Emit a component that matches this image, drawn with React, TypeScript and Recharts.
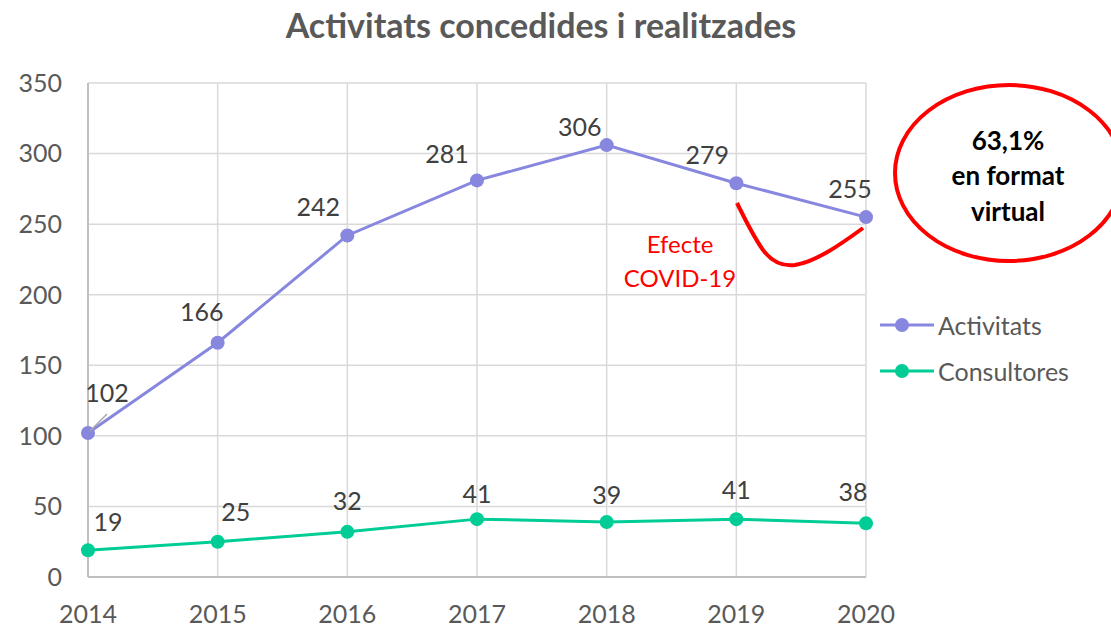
import React from 'react'
import { LineChart, Line, XAxis, YAxis, CartesianGrid, LabelList } from 'recharts'

const years = ['2014', '2015', '2016', '2017', '2018', '2019', '2020']
const activitats = [102, 166, 242, 281, 306, 279, 255]
const consultores = [19, 25, 32, 41, 39, 41, 38]
const yTicks = [0, 50, 100, 150, 200, 250, 300, 350]

// label offsets from the point (text centre), like Excel placed them
const actOffsets = [[19, -41], [-16, -32], [-29, -29], [-30, -27], [-27, -19], [-29, -29], [-16, -29]]
const conOffsets = [[20, -29], [18, -31], [0, -32], [0, -26], [0, -28], [0, -30], [-13, -32]]

const PURPLE = '#8787e0'
const TEAL = '#00cc96'
const FONT = 'Lato, "Open Sans", sans-serif'

const chartData = years.map((year, i) => ({
  year,
  activitats: activitats[i],
  consultores: consultores[i],
}))

function makeLabel(offsets: number[][], leader: boolean) {
  return (props: any) => {
    const { x, y, value, index } = props
    const [dx, dy] = offsets[index] || [0, -28]
    return (
      <g>
        {leader && index === 0 && (
          <line x1={x + 2} y1={y - 2} x2={x + 19} y2={y - 19} stroke="#a6a6a6" strokeWidth={1.5} />
        )}
        <text
          x={x + dx}
          y={y + dy}
          textAnchor="middle"
          dominantBaseline="central"
          fill="#404040"
          fontSize={25}
          fontFamily={FONT}
        >
          {value}
        </text>
      </g>
    )
  }
}

const legendItems = [
  { name: 'Activitats', color: PURPLE },
  { name: 'Consultores', color: TEAL },
]

export default function App() {
  return (
    <div style={{ position: 'absolute', left: 0, top: 0, width: 1111, height: 627, background: '#fff', fontFamily: FONT, overflow: 'hidden' }}>
      <div
        style={{
          position: 'absolute',
          left: 0,
          top: 4,
          width: 1082,
          textAlign: 'center',
          fontSize: 34,
          fontWeight: 'bold',
          color: '#595959',
        }}
      >
        Activitats concedides i realitzades
      </div>
      <LineChart
        width={1111}
        height={627}
        data={chartData}
        margin={{ top: 83, right: 245, bottom: 0, left: 0 }}
      >
        <CartesianGrid stroke="#d9d9d9" strokeWidth={1.5} />
        <XAxis
          dataKey="year"
          height={50}
          tickSize={0}
          tickMargin={28}
          axisLine={{ stroke: '#bfbfbf', strokeWidth: 2 }}
          tick={{ fill: '#595959', fontSize: 25, fontFamily: FONT }}
        />
        <YAxis
          width={88}
          domain={[0, 350]}
          ticks={yTicks}
          tickSize={0}
          tickMargin={26}
          axisLine={{ stroke: '#bfbfbf', strokeWidth: 2 }}
          tick={{ fill: '#595959', fontSize: 25, fontFamily: FONT }}
        />
        <Line
          dataKey="activitats"
          name="Activitats"
          stroke={PURPLE}
          strokeWidth={3}
          dot={{ r: 7, fill: PURPLE, stroke: PURPLE, strokeWidth: 0 }}
          activeDot={false}
          isAnimationActive={false}
        >
          <LabelList dataKey="activitats" content={makeLabel(actOffsets, true)} />
        </Line>
        <Line
          dataKey="consultores"
          name="Consultores"
          stroke={TEAL}
          strokeWidth={3}
          dot={{ r: 7, fill: TEAL, stroke: TEAL, strokeWidth: 0 }}
          activeDot={false}
          isAnimationActive={false}
        >
          <LabelList dataKey="consultores" content={makeLabel(conOffsets, false)} />
        </Line>
      </LineChart>
      <div style={{ position: 'absolute', left: 880, top: 302, fontSize: 25, color: '#595959' }}>
        {legendItems.map((it) => (
          <div key={it.name} style={{ display: 'flex', alignItems: 'center', height: 46 }}>
            <svg width={56} height={20} style={{ marginRight: 2 }}>
              <line x1={0} y1={10} x2={54} y2={10} stroke={it.color} strokeWidth={3} />
              <circle cx={22} cy={10} r={7} fill={it.color} />
            </svg>
            <span>{it.name}</span>
          </div>
        ))}
      </div>
      <svg
        width={1111}
        height={627}
        style={{ position: 'absolute', left: 0, top: 0, pointerEvents: 'none' }}
      >
        <path d="M 737 203 C 760 250, 770 268, 795 265 C 815 262, 840 245, 863 228" fill="none" stroke="#ff0000" strokeWidth={4} />
        <text x={680} y={243} textAnchor="middle" dominantBaseline="central" fill="#ff0000" fontSize={24} fontFamily={FONT}>
          Efecte
        </text>
        <text x={680} y={277} textAnchor="middle" dominantBaseline="central" fill="#ff0000" fontSize={24} fontFamily={FONT}>
          COVID-19
        </text>
        <ellipse cx={1009} cy={173} rx={114} ry={88} fill="none" stroke="#ff0000" strokeWidth={4} />
        <g fill="#000" fontSize={26} fontWeight="bold" fontFamily={FONT} textAnchor="middle" dominantBaseline="central">
          <text x={1008} y={140}>63,1%</text>
          <text x={1008} y={175}>en format</text>
          <text x={1008} y={211}>virtual</text>
        </g>
      </svg>
    </div>
  )
}
